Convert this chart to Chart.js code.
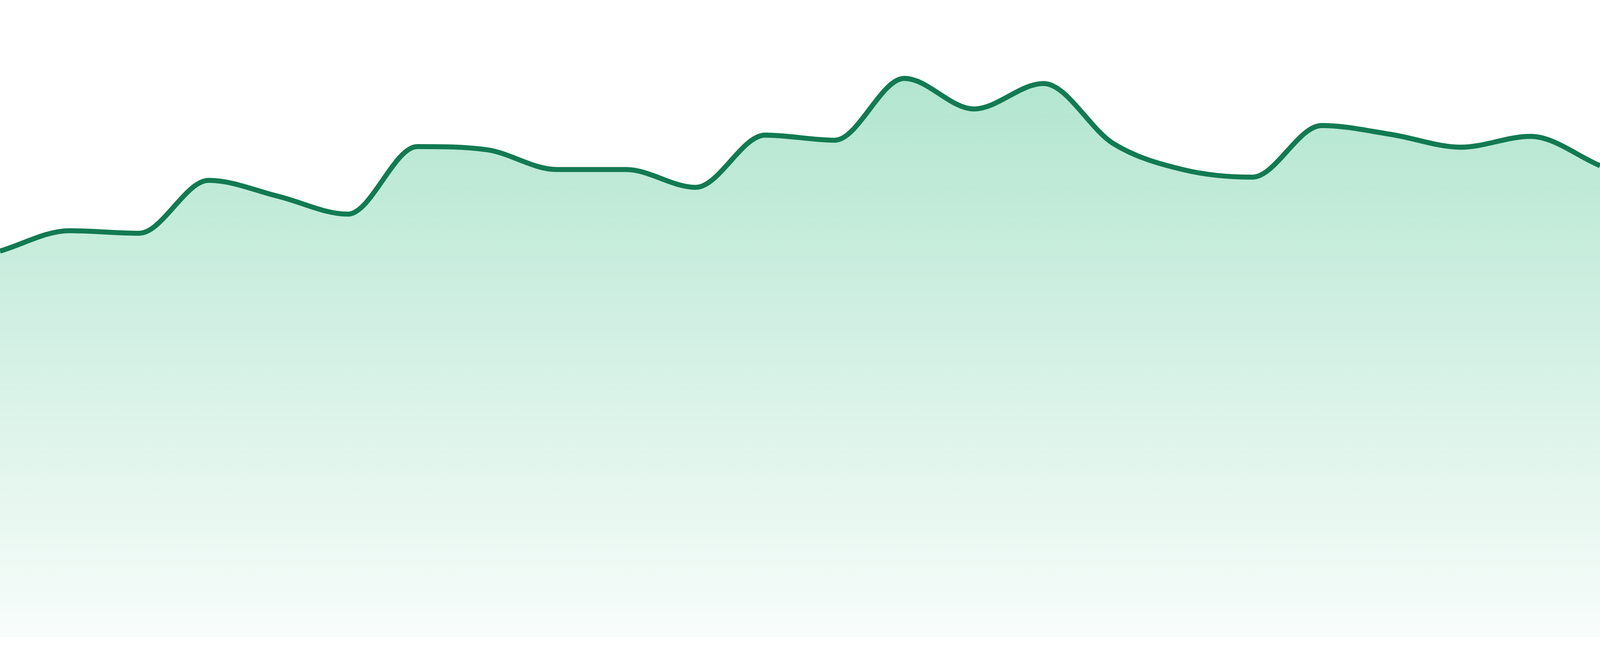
<!DOCTYPE html>
<html>
<head>
<meta charset="utf-8">
<script src="https://cdn.jsdelivr.net/npm/chart.js@4.4.1/dist/chart.umd.min.js"></script>
<style>
  html, body { margin: 0; padding: 0; background: #ffffff; overflow: hidden; }
  #wrap { width: 100vw; height: 100vh; position: relative; }
</style>
</head>
<body>
<div id="wrap"><canvas id="c"></canvas></div>
<script>
const categories = ['1','2','3','4','5','6','7','8','9','10','11','12','13','14','15','16','17','18','19','20','21','22','23','24'];
const values = [60.6, 63.8, 63.4, 71.7, 69.2, 66.4, 77.0, 76.5, 73.4, 73.4, 70.6, 78.8, 78.0, 87.7, 82.9, 86.9, 77.5, 73.4, 72.2, 80.3, 78.9, 76.9, 78.6, 74.0];
const yRange = [0, 100];

const lineColor = 'rgb(18,122,82)';
const sx = window.innerWidth / 4800;
const sy = window.innerHeight / 1680;

const ctx = document.getElementById('c');
new Chart(ctx, {
  type: 'line',
  data: {
    labels: categories,
    datasets: [{
      data: values,
      borderColor: lineColor,
      borderWidth: 15 * sx,
      pointRadius: 0,
      cubicInterpolationMode: 'monotone',
      fill: 'start',
      backgroundColor: function(context) {
        const chart = context.chart;
        const area = chart.chartArea;
        if (!area) return 'rgba(27,180,114,0.2)';
        const g = chart.ctx.createLinearGradient(0, area.top, 0, area.bottom);
        g.addColorStop(0, 'rgba(27,180,114,0.38)');
        g.addColorStop(1, 'rgba(27,180,114,0.03)');
        return g;
      }
    }]
  },
  options: {
    responsive: true,
    maintainAspectRatio: false,
    animation: false,
    layout: { padding: { left: 0, right: 0, top: 0, bottom: 48 * sy } },
    plugins: { legend: { display: false }, tooltip: { enabled: false } },
    scales: {
      x: { display: false },
      y: { display: false, min: yRange[0], max: yRange[1] }
    }
  }
});
</script>
</body>
</html>
